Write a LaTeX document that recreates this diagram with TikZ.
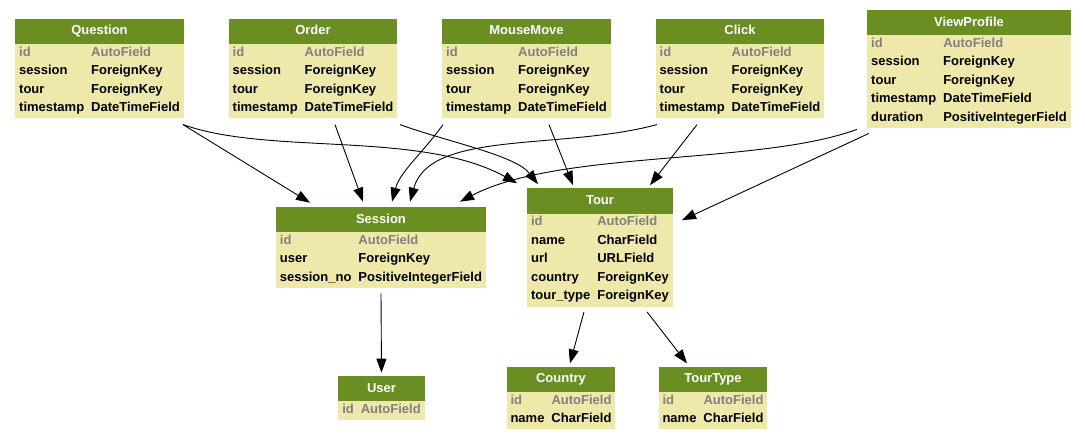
\documentclass[tikz,border=0pt]{standalone}
\usepackage{fontspec}
\setmainfont{Liberation Sans}
\usetikzlibrary{arrows.meta,shapes.multipart}

\definecolor{headgreen}{RGB}{107,142,35}
\definecolor{bodyyellow}{RGB}{238,232,170}
\definecolor{keygray}{RGB}{128,128,128}

\newcommand{\modelhead}[1]{\rule[-9pt]{0pt}{25pt}\textcolor{white}{#1}}
\newcommand{\modelrow}[2]{\rule[-6.5pt]{0pt}{18.5pt}#1 & #2\\}
\newcommand{\keyrow}{\modelrow{\textcolor{keygray}{id}}{\textcolor{keygray}{AutoField}}}
\newenvironment{fields}{\begin{tabular}{@{}l@{\hspace{7pt}}l@{}}}{\end{tabular}}

\begin{document}
\begin{tikzpicture}[x=1pt,y=-1pt,
    model/.style={rectangle split, rectangle split parts=2,
      rectangle split part fill={headgreen,bodyyellow},
      inner xsep=4pt, inner ysep=0pt,
      font=\fontsize{13}{15}\selectfont\bfseries},
    fk/.style={-{Triangle[length=14pt,width=10pt]}, line width=0.9pt}]
\useasboundingbox (0,0) rectangle (1085,440);

% models
\node[model] (question) at (99.5,68.5) {\modelhead{Question}
  \nodepart{second}\begin{fields}
  \keyrow
  \modelrow{session}{ForeignKey}
  \modelrow{tour}{ForeignKey}
  \modelrow{timestamp}{DateTimeField}
  \end{fields}};
\node[model] (order) at (313,68.5) {\modelhead{Order}
  \nodepart{second}\begin{fields}
  \keyrow
  \modelrow{session}{ForeignKey}
  \modelrow{tour}{ForeignKey}
  \modelrow{timestamp}{DateTimeField}
  \end{fields}};
\node[model] (mousemove) at (526.5,68.5) {\modelhead{MouseMove}
  \nodepart{second}\begin{fields}
  \keyrow
  \modelrow{session}{ForeignKey}
  \modelrow{tour}{ForeignKey}
  \modelrow{timestamp}{DateTimeField}
  \end{fields}};
\node[model] (click) at (740,68.5) {\modelhead{Click}
  \nodepart{second}\begin{fields}
  \keyrow
  \modelrow{session}{ForeignKey}
  \modelrow{tour}{ForeignKey}
  \modelrow{timestamp}{DateTimeField}
  \end{fields}};
\node[model] (viewprofile) at (969,69) {\modelhead{ViewProfile}
  \nodepart{second}\begin{fields}
  \keyrow
  \modelrow{session}{ForeignKey}
  \modelrow{tour}{ForeignKey}
  \modelrow{timestamp}{DateTimeField}
  \modelrow{duration}{PositiveIntegerField}
  \end{fields}};
\node[model] (session) at (381,247.5) {\modelhead{Session}
  \nodepart{second}\begin{fields}
  \keyrow
  \modelrow{user}{ForeignKey}
  \modelrow{session\_no}{PositiveIntegerField}
  \end{fields}};
\node[model] (tour) at (600,247.5) {\modelhead{Tour}
  \nodepart{second}\begin{fields}
  \keyrow
  \modelrow{name}{CharField}
  \modelrow{url}{URLField}
  \modelrow{country}{ForeignKey}
  \modelrow{tour\_type}{ForeignKey}
  \end{fields}};
\node[model] (user) at (381.5,398) {\modelhead{User}
  \nodepart{second}\begin{fields}
  \keyrow
  \end{fields}};
\node[model] (country) at (561,398) {\modelhead{Country}
  \nodepart{second}\begin{fields}
  \keyrow
  \modelrow{name}{CharField}
  \end{fields}};
\node[model] (tourtype) at (713,398) {\modelhead{TourType}
  \nodepart{second}\begin{fields}
  \keyrow
  \modelrow{name}{CharField}
  \end{fields}};

% foreign keys
\foreach \src/\sx/\sy/\dst/\dx/\dy in {question/83.5/-6/session/-71/4,
    order/22/-6/session/-18/5, mousemove/22.5/-6/tour/-27/3,
    click/-43/-6/tour/50/3, session/0/-5/user/0/3,
    tour/-16/-5/country/9/3, tour/47/-5/tourtype/-26/3}
  \draw[fk] ([xshift=\sx pt,yshift=\sy pt]\src.south) -- ([xshift=\dx pt,yshift=\dy pt]\dst.north);

\draw[fk] ([xshift=83.5pt,yshift=-6pt]question.south) .. controls +(87,31) and +(-97,-53) .. ([xshift=-83pt,yshift=5pt]tour.north);
\draw[fk] ([xshift=87pt,yshift=-6pt]order.south) .. controls +(50,18) and +(-23,-29) .. ([xshift=-62pt,yshift=4pt]tour.north);
\draw[fk] ([xshift=-83.5pt,yshift=-6pt]mousemove.south) .. controls +(-20,28) and +(8,-30) .. ([xshift=11pt,yshift=5pt]session.north);
\draw[fk] ([xshift=-83pt,yshift=-6pt]click.south) .. controls +(-97,26) and +(20,-72) .. ([xshift=29pt,yshift=5pt]session.north);
\draw[fk] ([xshift=-10pt,yshift=-1pt]viewprofile.south west) .. controls +(-98,36) and +(100,-52) .. ([xshift=79pt,yshift=5pt]session.north);
\draw[fk] ([xshift=2pt,yshift=-5pt]viewprofile.south west) -- ([xshift=9pt,yshift=-32pt]tour.north east);

\end{tikzpicture}
\end{document}
